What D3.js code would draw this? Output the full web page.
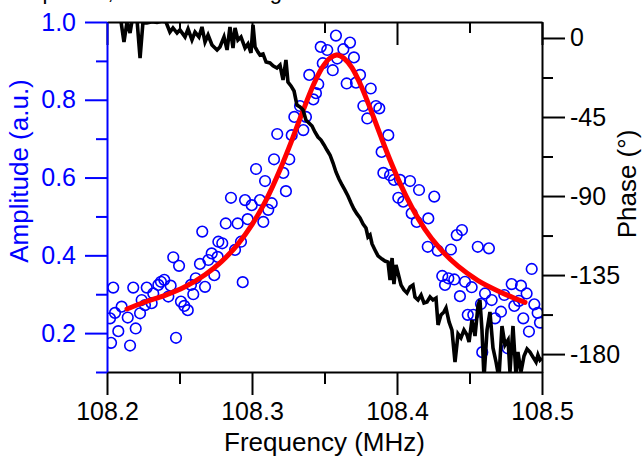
<!DOCTYPE html>
<html><head><meta charset="utf-8">
<script src="https://cdn.jsdelivr.net/npm/d3@7"></script>
<style>
body{margin:0;background:#fff}
svg{display:block}
text{font-family:"Liberation Sans",Arial,sans-serif}
</style>
</head><body>
<svg id="c" width="643" height="457"></svg>
<script>
// ---- data ----
const xTicks=[108.2,108.3,108.4,108.5];
const xMinorTicks=[108.25,108.35,108.45];
const ampTicks=[0.2,0.4,0.6,0.8,1.0];
const ampMinorTicks=[0.1,0.3,0.5,0.7,0.9];
const phaseTicks=[0,-45,-90,-135,-180];
const phaseMinorTicks=[-22.5,-67.5,-112.5,-157.5];

const ampFreq=[108.2043,108.2021,108.2028,108.2078,108.2055,108.2101,108.2143,108.2159,108.2198,108.2181,
108.2228,108.2239,108.2274,108.2262,108.2308,108.2319,108.2354,108.2372,108.2395,108.2423,
108.2439,108.2457,108.2497,108.2476,108.2510,108.2533,108.2557,108.2579,108.2595,108.2612,
108.2641,108.2676,108.2657,108.2699,108.2722,108.2740,108.2768,108.2763,108.2795,108.2819,
108.2855,108.2883,108.2901,108.2924,108.2936,108.2952,108.2970,108.2998,108.3028,108.3090,
108.3055,108.3078,108.3112,108.3136,108.3152,108.3216,108.3234,108.3257,108.3174,108.3274,
108.3292,108.3331,108.3354,108.3372,108.3395,108.3423,108.3441,108.3457,108.3474,108.3488,
108.3519,108.3557,108.3579,108.3588,108.3630,108.3676,108.3653,108.3703,108.3717,108.3745,
108.3768,108.3795,108.3819,108.3855,108.3878,108.3894,108.3940,108.3906,108.3952,108.3979,
108.4009,108.4021,108.4043,108.4090,108.4101,108.4136,108.4152,108.4216,108.4257,108.4212,
108.4281,108.4372,108.4412,108.4448,108.4312,108.4331,108.4354,108.4395,108.4434,108.4469,
108.4515,108.4488,108.4526,108.4557,108.4634,108.4579,108.4607,108.4653,108.4676,108.4717,
108.4740,108.4791,108.4809,108.4841,108.4855,108.4894,108.4871,108.4910,108.4929,108.4947,
108.4970,108.4986,108.4588,108.4763];
const ampVals=[0.317,0.238,0.175,0.205,0.252,0.268,0.240,0.168,0.212,0.317,
0.251,0.285,0.317,0.272,0.277,0.302,0.324,0.332,0.337,0.294,
0.322,0.395,0.373,0.188,0.281,0.270,0.259,0.324,0.300,0.341,
0.378,0.319,0.461,0.388,0.405,0.349,0.435,0.396,0.431,0.482,
0.548,0.414,0.482,0.435,0.331,0.542,0.493,0.529,0.622,0.591,
0.542,0.486,0.517,0.534,0.647,0.612,0.565,0.647,0.712,0.709,
0.756,0.784,0.722,0.756,0.864,0.801,0.817,0.840,0.936,0.894,
0.928,0.876,0.965,0.906,0.930,0.947,0.842,0.909,0.844,0.864,
0.784,0.752,0.829,0.784,0.778,0.666,0.709,0.612,0.606,0.594,
0.548,0.594,0.538,0.591,0.508,0.486,0.568,0.495,0.551,0.422,
0.412,0.415,0.452,0.465,0.347,0.324,0.341,0.338,0.295,0.332,
0.318,0.247,0.247,0.422,0.418,0.275,0.302,0.285,0.238,0.255,
0.298,0.326,0.270,0.283,0.322,0.302,0.238,0.204,0.365,0.274,
0.252,0.227,0.151,0.161];

const fitFreq=[108.2138,108.2262,108.2400,108.2538,108.2676,108.2793,108.2903,108.3000,108.3097,108.3193,
108.3276,108.3352,108.3421,108.3483,108.3538,108.3586,108.3634,108.3690,108.3752,108.3814,
108.3883,108.3952,108.4021,108.4103,108.4193,108.4297,108.4421,108.4559,108.4710,108.4883];
const fitVals=[0.262,0.280,0.297,0.319,0.350,0.385,0.429,0.479,0.542,0.620,
0.697,0.772,0.836,0.882,0.907,0.915,0.907,0.882,0.836,0.779,
0.711,0.645,0.585,0.523,0.467,0.417,0.372,0.335,0.306,0.279];

const phaseFreq=[108.2000,108.2034,108.2069,108.2097,108.2117,108.2138,108.2159,108.2179,108.2207,108.2228,
108.2248,108.2276,108.2310,108.2345,108.2379,108.2407,108.2434,108.2455,108.2483,108.2503,
108.2538,108.2559,108.2586,108.2607,108.2634,108.2655,108.2676,108.2697,108.2724,108.2745,
108.2759,108.2779,108.2807,108.2828,108.2848,108.2869,108.2883,108.2903,108.2924,108.2952,
108.2972,108.2993,108.3007,108.3021,108.3041,108.3055,108.3076,108.3097,108.3124,108.3145,
108.3172,108.3193,108.3214,108.3234,108.3248,108.3269,108.3290,108.3310,108.3331,108.3352,
108.3372,108.3393,108.3414,108.3434,108.3455,108.3476,108.3497,108.3517,108.3538,108.3559,
108.3579,108.3600,108.3621,108.3641,108.3662,108.3683,108.3703,108.3724,108.3745,108.3766,
108.3786,108.3800,108.3814,108.3828,108.3848,108.3869,108.3897,108.3917,108.3938,108.3952,
108.3966,108.3979,108.3993,108.4007,108.4028,108.4048,108.4069,108.4090,108.4110,108.4124,
108.4145,108.4166,108.4186,108.4207,108.4228,108.4248,108.4269,108.4283,108.4303,108.4324,
108.4338,108.4359,108.4379,108.4400,108.4421,108.4441,108.4462,108.4483,108.4497,108.4517,
108.4538,108.4559,108.4572,108.4586,108.4600,108.4621,108.4641,108.4662,108.4683,108.4703,
108.4724,108.4745,108.4766,108.4779,108.4800,108.4821,108.4834,108.4855,108.4876,108.4897,
108.4917,108.4938,108.4959,108.4972,108.4986,108.5000];
const phaseVals=[15.9,14.8,13.7,9.1,-2.3,9.1,2.8,13.1,10.3,-11.4,
9.0,8.6,9.3,8.8,9.5,9.1,3.4,5.7,2.8,4.6,
0.6,5.1,-1.1,3.4,0.6,6.3,-2.3,1.7,-4.0,-5.7,
-6.8,-5.1,0.6,-6.8,6.3,-5.7,5.7,-1.1,0.6,-5.7,
-3.4,-8.5,7.4,-5.1,-8.0,-9.7,-9.1,-13.7,-14.2,-15.9,
-17.1,-15.4,-23.9,-12.5,-25.1,-27.3,-30.2,-38.2,-39.3,-41.0,
-46.7,-48.4,-50.1,-53.5,-56.4,-58.1,-60.9,-63.8,-66.6,-71.2,
-76.3,-80.3,-83.7,-86.6,-90.0,-94.0,-97.4,-100.2,-102.5,-105.9,
-108.2,-113.3,-112.2,-117.3,-120.7,-124.1,-125.9,-127.0,-127.6,-137.8,
-125.3,-140.1,-129.3,-133.8,-140.7,-143.5,-145.2,-141.8,-140.7,-147.5,
-149.2,-146.4,-150.9,-150.3,-147.5,-149.2,-148.1,-163.4,-157.7,-156.0,
-153.8,-161.7,-166.3,-184.5,-168.6,-170.8,-166.3,-169.1,-173.1,-160.6,
-169.7,-152.1,-149.2,-166.3,-193.6,-166.3,-156.0,-176.5,-184.5,-193.6,
-164.0,-174.8,-172.0,-190.2,-164.0,-192.5,-178.8,-190.2,-181.1,-177.1,
-178.8,-181.7,-184.5,-180.5,-183.4,-182.2];

// ---- layout ----
const W=643,H=457, L=107,R=542,T=22,B=372;
const BLUE="#0000ff";
const svg=d3.select("#c");
svg.append("rect").attr("width",W).attr("height",H).attr("fill","#fff");

const x=d3.scaleLinear().domain([108.2,108.5]).range([L,R]);
const yA=d3.scaleLinear().domain([0.1,1.0]).range([B,T]);
const yP=d3.scaleLinear().domain([-190.2,9.1]).range([B,T]);

svg.append("defs").append("clipPath").attr("id","plot")
  .append("rect").attr("x",L).attr("y",T).attr("width",R-L).attr("height",B-T);

// caption fragment from the surrounding document (cut off at the top, as in the reference)
const cap=svg.append("g").style("font-family",'"Liberation Serif","Times New Roman",serif').style("font-size","22px").attr("fill","#000");
cap.append("text").attr("x",12).attr("y",-1).text("amplitude,");
cap.append("text").attr("x",282).attr("y",-1).attr("text-anchor","end").text("and the resulting");

const plot=svg.append("g").attr("clip-path","url(#plot)");

const ampData=ampFreq.map((f,i)=>({f,v:ampVals[i]}));
plot.append("g").selectAll("circle").data(ampData).join("circle")
  .attr("cx",d=>x(d.f)).attr("cy",d=>yA(d.v)).attr("r",5.3)
  .attr("fill","none").attr("stroke",BLUE).attr("stroke-width",1.6);

const fitData=fitFreq.map((f,i)=>({f,v:fitVals[i]}));
plot.append("path").datum(fitData)
  .attr("d",d3.line().x(d=>x(d.f)).y(d=>yA(d.v)).curve(d3.curveMonotoneX))
  .attr("fill","none").attr("stroke","#ff0000").attr("stroke-width",5).attr("stroke-linecap","round");

const phData=phaseFreq.map((f,i)=>({f,v:phaseVals[i]}));
plot.append("path").datum(phData)
  .attr("d",d3.line().x(d=>x(d.f)).y(d=>yP(d.v)))
  .attr("fill","none").attr("stroke","#000").attr("stroke-width",3.6).attr("stroke-linejoin","miter").attr("stroke-miterlimit",4);

// ---- axes ----
function style(g,color,fs){
  g.selectAll("path.domain").attr("stroke",color).attr("stroke-width",2);
  g.selectAll(".tick line").attr("stroke",color).attr("stroke-width",2);
  g.selectAll(".tick text").attr("fill",color).style("font-size",fs+"px").style("font-family",'"Liberation Sans",Arial,sans-serif');
}
const fmt1=d3.format(".1f");

// bottom
const gb=svg.append("g").attr("transform",`translate(0,${B})`)
  .call(d3.axisBottom(x).tickValues(xTicks).tickSize(23).tickPadding(7).tickSizeOuter(0).tickFormat(fmt1));
style(gb,"#000",25);
const gbm=svg.append("g").attr("transform",`translate(0,${B})`)
  .call(d3.axisBottom(x).tickValues(xMinorTicks).tickSize(12).tickSizeOuter(0).tickFormat(""));
gbm.select("path.domain").remove(); style(gbm,"#000",25);

// top (ticks inward)
const gt=svg.append("g").attr("transform",`translate(0,${T})`)
  .call(d3.axisTop(x).tickValues(xTicks).tickSizeInner(-23).tickSizeOuter(0).tickFormat(""));
style(gt,"#000",25);
const gtm=svg.append("g").attr("transform",`translate(0,${T})`)
  .call(d3.axisTop(x).tickValues(xMinorTicks).tickSizeInner(-11).tickSizeOuter(0).tickFormat(""));
gtm.select("path.domain").remove(); style(gtm,"#000",25);

// right (phase)
const gr=svg.append("g").attr("transform",`translate(${R},0)`)
  .call(d3.axisRight(yP).tickValues(phaseTicks).tickSize(23).tickPadding(5).tickSizeOuter(0).tickFormat(d=>String(d)));
style(gr,"#000",25);
const grm=svg.append("g").attr("transform",`translate(${R},0)`)
  .call(d3.axisRight(yP).tickValues(phaseMinorTicks).tickSize(11).tickSizeOuter(0).tickFormat(""));
grm.select("path.domain").remove(); style(grm,"#000",25);

// left (amplitude)
const gl=svg.append("g").attr("transform",`translate(${L},0)`)
  .call(d3.axisLeft(yA).tickValues(ampTicks).tickSize(22).tickPadding(9).tickSizeOuter(0).tickFormat(fmt1));
style(gl,BLUE,25);
const glm=svg.append("g").attr("transform",`translate(${L},0)`)
  .call(d3.axisLeft(yA).tickValues(ampMinorTicks).tickSize(11).tickSizeOuter(0).tickFormat(""));
glm.select("path.domain").remove(); style(glm,BLUE,25);

// titles
svg.append("text").attr("x",(L+R)/2).attr("y",451).attr("text-anchor","middle")
  .style("font-size","26px").attr("fill","#000").text("Frequency (MHz)");
svg.append("text").attr("transform","translate(28,171) rotate(-90)").attr("text-anchor","middle")
  .style("font-size","26px").attr("fill",BLUE).text("Amplitude (a.u.)");
svg.append("text").attr("transform","translate(636,184) rotate(-90)").attr("text-anchor","middle")
  .style("font-size","26px").attr("fill","#000").text("Phase (°)");
</script>
</body></html>
